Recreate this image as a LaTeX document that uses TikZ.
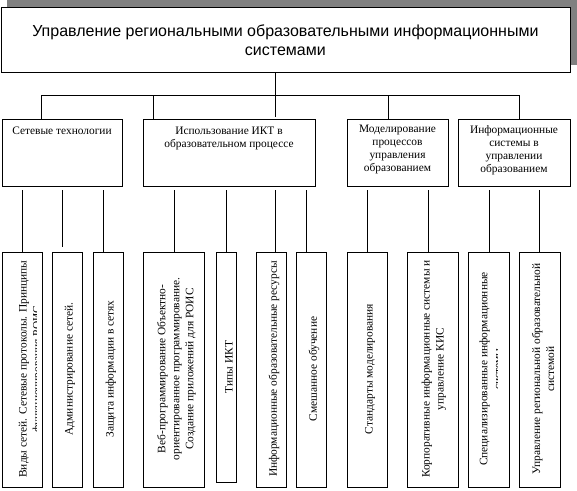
\documentclass[tikz,border=0pt]{standalone}
\usepackage{fontspec}
\setmainfont{Liberation Serif}
\newfontfamily\arialf{Liberation Sans}
\begin{document}
\begin{tikzpicture}[x=1pt,y=-1pt, line width=0.8pt,
  box/.style={draw, fill=white, anchor=north west, inner sep=0pt},
  ttl/.style={font=\fontsize{11.4}{13}\selectfont, align=center, anchor=north, inner sep=0pt},
  vt/.style={font=\fontsize{11.4}{14}\selectfont, align=center, rotate=90, inner sep=0pt}]
\useasboundingbox (0,0) rectangle (577,490);
% shadow and main box
\fill[gray] (7,0) rectangle (577,65);
\node[box, minimum width=569pt, minimum height=65pt, align=center,
  font=\arialf\fontsize{16}{19}\selectfont] (top) at (0.5,7)
  {Управление региональными образовательными информационными\\системами};
% second level boxes
\node[box, minimum width=120pt, minimum height=67pt] (b1) at (2,119) {};
\node[box, minimum width=172pt, minimum height=67pt] (b2) at (143,119) {};
\node[box, minimum width=101pt, minimum height=67pt] (b3) at (347,119) {};
\node[box, minimum width=112pt, minimum height=67pt] (b4) at (458,119) {};
\node[ttl] (t1) at (62,127) {Сетевые технологии};
\node[ttl] (t2) at (229,127) {Использование ИКТ в\\образовательном процессе};
\node[ttl] (t3) at (397.5,125) {Моделирование\\процессов\\управления\\образованием};
\node[ttl] (t4) at (514,125) {Информационные\\системы в\\управлении\\образованием};
% bus
\coordinate (bL) at (41,95);
\coordinate (bR) at (519,95);
\draw (top.south -| 275,0) -- (275,95);
\draw (bL) -- (bR);
\draw (bL) -- (bL |- b1.north);
\draw (153,95) -- (153,95 |- b2.north);
\draw (275,95) -- (275,117);
\draw (388,95) -- (388,95 |- b3.north);
\draw (bR) -- (bR |- b4.north);
% bottom boxes
\node[box, minimum width=40pt, minimum height=235pt] (c1) at (2,252) {};
\node[box, minimum width=30pt, minimum height=235pt] (c2) at (52,252) {};
\node[box, minimum width=30pt, minimum height=235pt] (c3) at (93,252) {};
\node[box, minimum width=61pt, minimum height=235pt] (c4) at (143,252) {};
\node[box, minimum width=20pt, minimum height=230pt] (c5) at (216,252) {};
\node[box, minimum width=30pt, minimum height=235pt] (c6) at (256,252) {};
\node[box, minimum width=30pt, minimum height=235pt] (c7) at (296,252) {};
\node[box, minimum width=40pt, minimum height=235pt] (c8) at (347,252) {};
\node[box, minimum width=51pt, minimum height=235pt] (c9) at (407,252) {};
\node[box, minimum width=41pt, minimum height=235pt] (c10) at (468,252) {};
\node[box, minimum width=41pt, minimum height=235pt] (c11) at (519,252) {};
% connectors to bottom boxes
\draw (22,190) -- (22,190 |- c1.north);
\draw (62,190) -- (62,247);
\draw (103,190) -- (103,190 |- c3.north);
\draw (174,190) -- (174,190 |- c4.north);
\draw (226,190) -- (226,190 |- c5.north);
\draw (275,190) -- (275,190 |- c6.north);
\draw (306,190) -- (306,190 |- c7.north);
\draw (367,190) -- (367,190 |- c8.north);
\draw (428,190) -- (428,190 |- c9.north);
\draw (489,190) -- (489,190 |- c10.north);
\draw (539,190) -- (539,190 |- c11.north);
% vertical texts
\begin{scope}
\clip (2,252) rectangle (36,487);
\node[vt] (v1) at (31,369) {Виды сетей. Сетевые протоколы. Принципы\\функционирования РОИС};
\end{scope}
\node[vt] (v2) at (70,369) {Администрирование сетей.};
\node[vt] (v3) at (111,369) {Защита информации в сетях};
\node[vt] (v4) at (176.5,369) {Веб-программирование Объектно-\\ориентированное программирование.\\Создание приложений для РОИС};
\node[vt] (v5) at (229,367) {Типы ИКТ};
\node[vt] (v6) at (274,369) {Информационные образовательные ресурсы};
\node[vt] (v7) at (314,369) {Смешанное обучение};
\node[vt] (v8) at (370,369) {Стандарты моделирования};
\node[vt] (v9) at (434,369) {Корпоративные информационные системы и\\управление КИС};
\begin{scope}
\clip (468,252) rectangle (497.5,487);
\node[vt] (v10) at (490.5,369) {Специализированные информационные\\системы};
\end{scope}
\node[vt] (v11) at (543,369) {Управление региональной образовательной\\системой};
\end{tikzpicture}
\end{document}
